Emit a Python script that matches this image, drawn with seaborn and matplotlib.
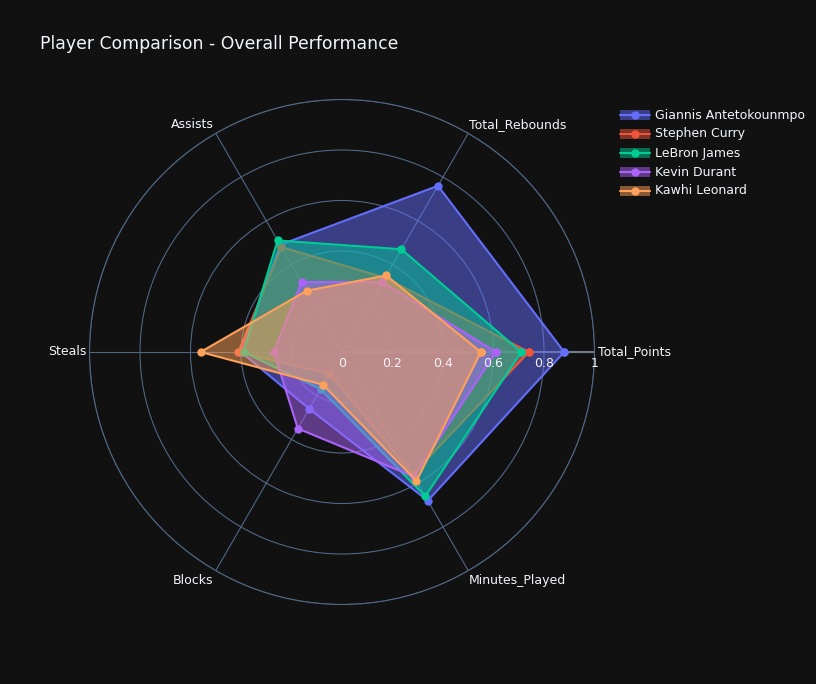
import numpy as np
import pandas as pd
import matplotlib
matplotlib.use("Agg")
import matplotlib.pyplot as plt
import seaborn as sns
from matplotlib.transforms import offset_copy
from matplotlib.patches import Rectangle
from matplotlib.lines import Line2D

categories = ["Total_Points", "Total_Rebounds", "Assists", "Steals", "Blocks", "Minutes_Played"]
players = ["Giannis Antetokounmpo", "Stephen Curry", "LeBron James", "Kevin Durant", "Kawhi Leonard"]
giannis = [0.88, 0.76, 0.49, 0.40, 0.26, 0.68]
curry = [0.74, 0.34, 0.48, 0.41, 0.10, 0.56]
lebron = [0.71, 0.47, 0.51, 0.39, 0.17, 0.66]
durant = [0.61, 0.32, 0.32, 0.27, 0.35, 0.57]
kawhi = [0.55, 0.35, 0.28, 0.56, 0.15, 0.59]
series = [giannis, curry, lebron, durant, kawhi]
colors = ["#636efa", "#EF553B", "#00cc96", "#ab63fa", "#FFA15A"]
r_ticks = [0, 0.2, 0.4, 0.6, 0.8, 1.0]
r_tick_labels = ["0", "0.2", "0.4", "0.6", "0.8", "1"]
title = "Player Comparison - Overall Performance"

BG = "#111111"
GRID = "#506784"
TXT = "#f2f5fa"

sns.set_theme(style="dark")
plt.rcParams["font.family"] = ["DejaVu Sans"]

W, H = 816, 684
fig = plt.figure(figsize=(W / 100, H / 100), dpi=100, facecolor=BG)
cx, cy, R = 342, 352, 252.5
ax = fig.add_axes([(cx - R) / W, (H - cy - R) / H, 2 * R / W, 2 * R / H], projection="polar")
ax.set_facecolor(BG)

theta = np.linspace(0, 2 * np.pi, len(categories), endpoint=False)

# radial axis line
ax.plot([0, 0], [0, 1], color="#737a8a", lw=1.5, zorder=1)

for i, (name, vals, col) in enumerate(zip(players, series, colors)):
    t = np.append(theta, 2 * np.pi)
    v = list(vals) + [vals[0]]
    df = pd.DataFrame({"theta": t, "value": v})
    z = 2 + i * 2
    ax.fill(t, v, color=col, alpha=0.5, lw=0, zorder=z)
    sns.lineplot(data=df, x="theta", y="value", color=col, marker="o", markersize=6,
                 markeredgewidth=0, lw=1.5, sort=False, ax=ax, zorder=z + 1, legend=False)

ax.set_xlabel("")
ax.set_ylabel("")
ax.set_ylim(0, 1)
ax.set_xticks(theta)
ax.set_xticklabels([])
ax.set_yticks([0.2, 0.4, 0.6, 0.8, 1.0])
ax.set_yticklabels([])
ax.grid(True, color=GRID, lw=0.8)
ax.spines["polar"].set_color(GRID)
ax.spines["polar"].set_linewidth(0.8)
ax.tick_params(length=0, pad=0)

for r, lab in zip(r_ticks, r_tick_labels):
    tr = offset_copy(ax.transData, fig=fig, x=0, y=-5, units="dots")
    ax.text(0, r, lab, transform=tr, ha="center", va="top", color=TXT, fontsize=9, zorder=30)

lab_cfg = [
    ("left", "center", 4, 0),
    ("left", "bottom", 1, 2),
    ("right", "bottom", -2, 2),
    ("right", "center", -3, 0),
    ("right", "top", -2, -3),
    ("left", "top", 1, -3),
]
for ang, lab, (ha, va, dx, dy) in zip(theta, categories, lab_cfg):
    tr = offset_copy(ax.transData, fig=fig, x=dx, y=dy, units="dots")
    ax.text(ang, 1.0, lab, transform=tr, ha=ha, va=va, color=TXT, fontsize=9, zorder=30)

fig.text(40 / W, 1 - 44 / H, title, ha="left", va="center", color=TXT, fontsize=12.4)

# legend
for i, (name, col) in enumerate(zip(players, colors)):
    y = 115 + 19 * i
    fy = 1 - y / H
    fig.add_artist(Rectangle((620 / W, 1 - (y + 5) / H), 30 / W, 10 / H,
                             transform=fig.transFigure, facecolor=col, alpha=0.5,
                             edgecolor="none"))
    fig.add_artist(Line2D([620 / W, 650 / W], [fy, fy], transform=fig.transFigure,
                          color=col, lw=1.5))
    fig.add_artist(Line2D([635 / W], [fy], transform=fig.transFigure, color=col,
                          marker="o", markersize=6, markeredgewidth=0, lw=0))
    fig.text(655 / W, fy, name, ha="left", va="center", color=TXT, fontsize=9)

fig.savefig("out.png", dpi=100, facecolor=BG)
